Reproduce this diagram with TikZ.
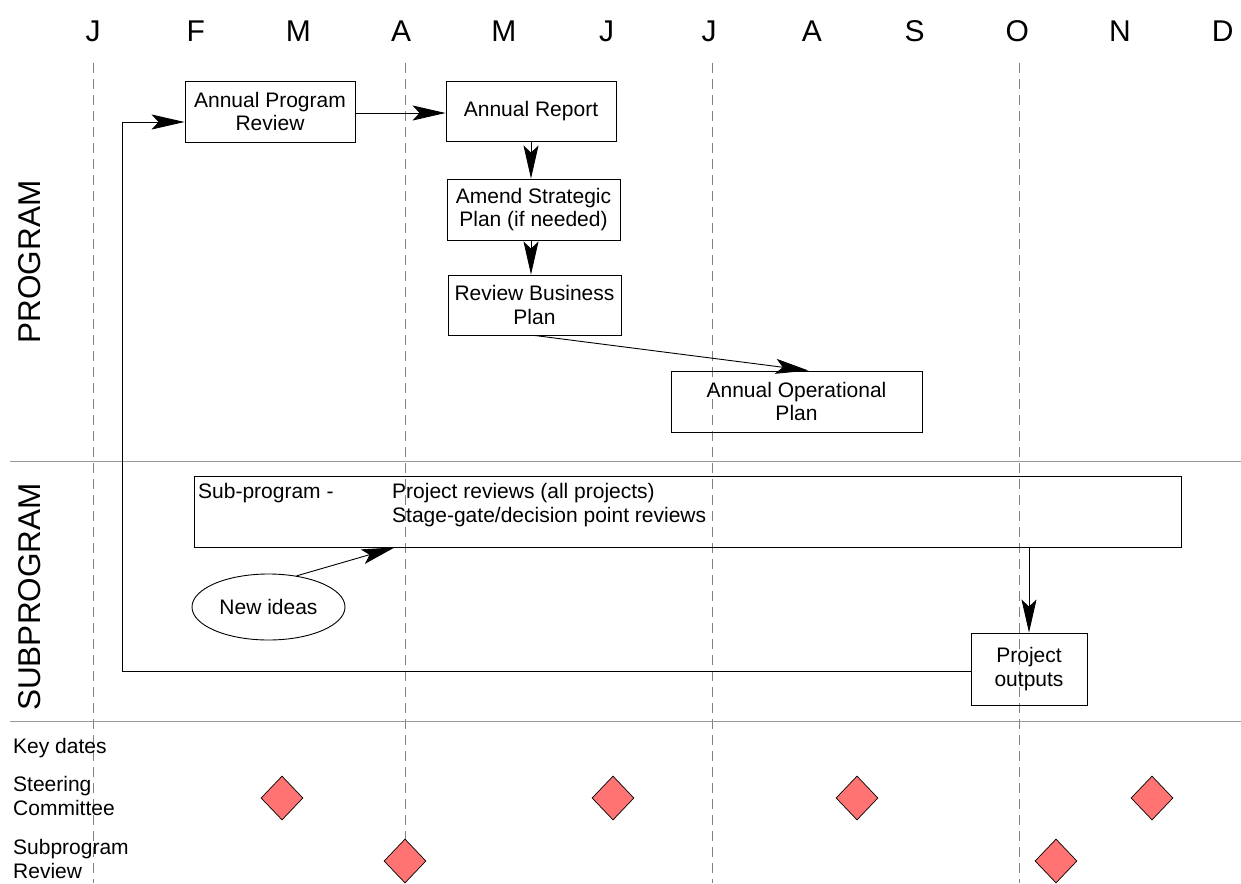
\documentclass[tikz,border=0pt]{standalone}
\usepackage{fontspec}
\setmainfont{Liberation Sans}
\usepackage{tikz}
\usetikzlibrary{positioning, arrows.meta, shapes.geometric, calc}
\definecolor{msred}{HTML}{FF7373}

\begin{document}
\begin{tikzpicture}[x=1pt, y=-1pt, font=\fontsize{21}{23.5}\selectfont,
  box/.style={draw, line width=0.9pt, align=center, inner sep=0pt},
  arr/.style={-{Stealth[length=33pt, width=15pt, inset=7pt]}, line width=0.9pt},
  guide/.style={gray, line width=0.8pt, dash pattern=on 10pt off 6pt},
  sep/.style={gray!80, line width=1pt},
  milestone/.style={diamond, draw, fill=msred, line width=0.7pt, inner sep=0pt, minimum width=42pt, minimum height=44pt},
  big/.style={font=\fontsize{30}{36}\selectfont}]
\useasboundingbox (0,0) rectangle (1241,883);
% month header
\foreach \m [count=\i] in {J,F,M,A,M,J,J,A,S,O,N,D}
  \node[big] (m\i) at ({93+(\i-1)*102.7}, 31) {\m};
\foreach \x in {93,405,712,1019}
  \draw[guide] (\x,63) -- (\x,883);
\draw[sep] (10,461) -- (1241,461);
\draw[sep] (10,721) -- (1241,721);
\node[big, rotate=90, font=\fontsize{31.5}{36}\selectfont] (prog) at (30,262) {PROGRAM};
\node[big, rotate=90, font=\fontsize{31.5}{36}\selectfont] (subprog) at (30,597) {SUBPROGRAM};
% program lane
\node[box, minimum width=170pt, minimum height=61pt] (APR) at (270,111.5) {Annual Program\\Review};
\node[box, minimum width=170pt, minimum height=60pt] (AR) at (531,111) {Annual Report};
\node[box, minimum width=173pt, minimum height=61pt] (ASP) at (533.5,209.5) {Amend Strategic\\Plan (if needed)};
\node[box, minimum width=173pt, minimum height=60pt] (RBP) at (534.5,305) {Review Business\\Plan};
\node[box, minimum width=251pt, minimum height=61pt] (AOP) at (796.5,401.5) {Annual Operational\\Plan};
% subprogram lane
\node[box, minimum width=987pt, minimum height=71pt] (SUB) at (687.5,511.5) {};
\node[anchor=base west, inner sep=0pt] (subname) at (198,498) {Sub-program -};
\node[anchor=base west, inner sep=0pt] (rev1) at (392,498) {Project reviews (all projects)};
\node[anchor=base west, inner sep=0pt] (rev2) at (392,522) {Stage-gate/decision point reviews};
\node[ellipse, draw, line width=0.9pt, minimum width=153pt, minimum height=66pt, inner sep=0pt] (ideas) at (268.5,607) {New ideas};
\node[box, minimum width=116pt, minimum height=72pt] (PO) at (1029,669) {Project\\outputs};
% connectors
\coordinate (loop) at (122,122);
\draw[arr] ([yshift=-2pt]PO.west) -| (loop) -- (loop -| APR.west);
\draw[arr] ([yshift=-1.5pt]APR.east) -- ([yshift=-1.5pt]APR.east -| AR.west);
\draw[arr] (AR.south) -- (AR.south |- ASP.north);
\draw[arr] (AR.south |- ASP.south) -- (AR.south |- RBP.north);
\draw[arr] (RBP.south) -- ([xshift=12pt]AOP.north);
\draw[arr] (ideas.48) -- ([xshift=201pt]SUB.south west);
\draw[arr] (SUB.south -| PO.north) -- (PO.north);
% key dates
\node[anchor=west, inner sep=0pt] (keyd) at (13,748) {Key dates};
\node[anchor=west, align=left, inner sep=0pt] (steer) at (13,796) {Steering\\Committee};
\node[anchor=west, align=left, inner sep=0pt] (srev) at (13,859) {Subprogram\\Review};
\foreach \x [count=\i] in {282,613,857,1152}
  \node[milestone] (sc\i) at (\x,798) {};
\foreach \x [count=\i] in {405,1056}
  \node[milestone] (sr\i) at (\x,861) {};
\end{tikzpicture}
\end{document}
